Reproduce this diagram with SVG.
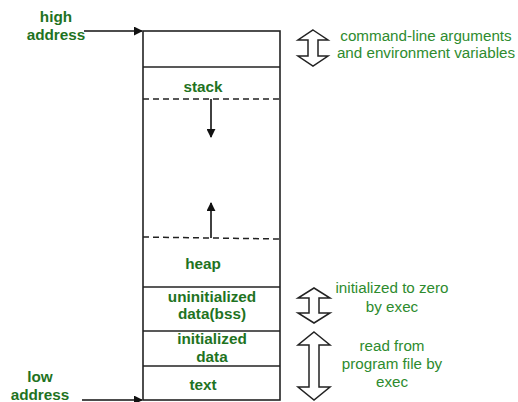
<svg xmlns="http://www.w3.org/2000/svg" width="518" height="402" viewBox="0 0 518 402">
<defs>
<style>
.box{fill:none;stroke:#222;stroke-width:1.6}
.sep{stroke:#222;stroke-width:1.6}
.dash{stroke:#222;stroke-width:1.5;stroke-dasharray:6 4}
.lbl{font-family:"Liberation Sans",Arial,sans-serif;font-weight:bold;font-size:15.3px;fill:#1f731f;text-anchor:middle}
.note{font-family:"Liberation Sans",Arial,sans-serif;font-size:15.2px;fill:#2e8b2e;text-anchor:middle}
.arr{stroke:#111;stroke-width:1.6;fill:none}
.dbl{fill:#fff;stroke:#222;stroke-width:1.5;stroke-linejoin:miter}
</style>
<marker id="ah" viewBox="0 0 10 10" refX="9" refY="5" markerWidth="9" markerHeight="9" markerUnits="userSpaceOnUse" orient="auto">
<path d="M0,0 L10,5 L0,10 z" fill="#111"/>
</marker>
</defs>
<rect width="518" height="402" fill="#fff"/>
<g id="memory">
<rect class="box" x="143" y="31" width="137" height="369"/>
<line class="sep" x1="143" y1="67" x2="280" y2="67"/>
<line class="dash" x1="143" y1="99" x2="280" y2="99"/>
<line class="dash" x1="143" y1="237" x2="280" y2="239"/>
<line class="sep" x1="143" y1="287" x2="280" y2="287"/>
<line class="sep" x1="143" y1="331" x2="280" y2="331"/>
<line class="sep" x1="143" y1="366" x2="280" y2="366"/>
</g>
<g id="stack"><text class="lbl" x="203" y="92">stack</text></g>
<g id="heap"><text class="lbl" x="203" y="269">heap</text></g>
<g id="bss"><text class="lbl" x="212" y="302">uninitialized</text><text class="lbl" x="212" y="319">data(bss)</text></g>
<g id="data"><text class="lbl" x="212" y="344">initialized</text><text class="lbl" x="212" y="362">data</text></g>
<g id="text"><text class="lbl" x="203" y="390">text</text></g>
<g id="high"><text class="lbl" x="56" y="22">high</text><text class="lbl" x="56" y="40">address</text></g>
<g id="low"><text class="lbl" x="40" y="382">low</text><text class="lbl" x="40" y="400">address</text></g>
<g id="notes">
<text class="note" x="426" y="41">command-line arguments</text>
<text class="note" x="426" y="58">and environment variables</text>
<text class="note" x="392" y="293">initialized to zero</text>
<text class="note" x="392" y="312">by exec</text>
<text class="note" x="392" y="351">read from</text>
<text class="note" x="392" y="369">program file by</text>
<text class="note" x="392" y="387">exec</text>
</g>
<g id="connectors">
<line class="arr" x1="84" y1="31" x2="142" y2="31" marker-end="url(#ah)"/>
<line class="arr" x1="82" y1="400" x2="142" y2="400" marker-end="url(#ah)"/>
<line class="arr" x1="211" y1="99" x2="211" y2="137" marker-end="url(#ah)"/>
<line class="arr" x1="211" y1="238" x2="211" y2="203" marker-end="url(#ah)"/>
<path class="dbl" d="M313,30 L328,40 L318,40 L318,56 L328,56 L313,66 L298,56 L308,56 L308,40 L298,40 Z"/>
<path class="dbl" d="M314,288 L330,298 L319,298 L319,313 L330,313 L314,323 L298,313 L309,313 L309,298 L298,298 Z"/>
<path class="dbl" d="M314,332 L330,345 L319,345 L319,387 L330,387 L314,400 L298,387 L309,387 L309,345 L298,345 Z"/>
</g>
</svg>
